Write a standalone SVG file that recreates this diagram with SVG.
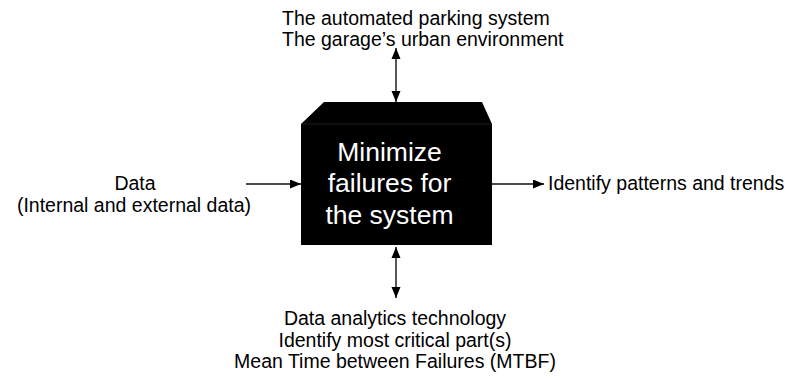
<svg xmlns="http://www.w3.org/2000/svg" width="790" height="378" viewBox="0 0 790 378">
  <style>
    .lbl { font-family: "Liberation Sans", Arial, sans-serif; font-size: 19.5px; fill: #000; }
    .mid { text-anchor: middle; }
    .box-text { font-family: "Liberation Sans", Arial, sans-serif; font-size: 26.5px; fill: #fff; text-anchor: middle; }
    .conn { stroke: #111; stroke-width: 1.4; fill: none; }
  </style>
  <defs>
    <marker id="arrowEnd" markerUnits="userSpaceOnUse" markerWidth="12" markerHeight="10" refX="11" refY="4.5" orient="auto">
      <path d="M0,0 L11,4.5 L0,9 z" fill="#000"/>
    </marker>
    <marker id="arrowStart" markerUnits="userSpaceOnUse" markerWidth="12" markerHeight="10" refX="0" refY="4.5" orient="auto">
      <path d="M11,0 L0,4.5 L11,9 z" fill="#000"/>
    </marker>
  </defs>

  <rect width="790" height="378" fill="#fff"/>

  <!-- connectors -->
  <g id="connectors">
    <line class="conn" x1="396" y1="48" x2="396" y2="102" marker-start="url(#arrowStart)" marker-end="url(#arrowEnd)"/>
    <line class="conn" x1="396" y1="247" x2="396" y2="298" marker-start="url(#arrowStart)" marker-end="url(#arrowEnd)"/>
    <line class="conn" x1="246" y1="184" x2="301" y2="184" marker-end="url(#arrowEnd)"/>
    <line class="conn" x1="492" y1="184" x2="544" y2="184" marker-end="url(#arrowEnd)"/>
  </g>

  <!-- central process block -->
  <g id="process">
    <polygon points="301,124 324,102 482,102 492,124 492,245 301,245" fill="#000"/>
    <line x1="301" y1="124" x2="492" y2="124" stroke="#333" stroke-width="0.6"/>
    <text class="box-text" x="389.5" y="160.5">Minimize</text>
    <text class="box-text" x="389.5" y="192">failures for</text>
    <text class="box-text" x="389.5" y="223.5">the system</text>
  </g>

  <!-- controls (top) -->
  <g id="controls">
    <text class="lbl" x="282" y="25">The automated parking system</text>
    <text class="lbl" x="282" y="46">The garage’s urban environment</text>
  </g>

  <!-- input (left) -->
  <g id="input">
    <text class="lbl mid" x="135" y="190">Data</text>
    <text class="lbl mid" x="134" y="211.5">(Internal and external data)</text>
  </g>

  <!-- output (right) -->
  <g id="output">
    <text class="lbl" x="548" y="189.5">Identify patterns and trends</text>
  </g>

  <!-- mechanisms (bottom) -->
  <g id="mechanisms">
    <text class="lbl mid" x="395" y="325">Data analytics technology</text>
    <text class="lbl mid" x="395" y="346.5">Identify most critical part(s)</text>
    <text class="lbl mid" x="395" y="368">Mean Time between Failures (MTBF)</text>
  </g>
</svg>
